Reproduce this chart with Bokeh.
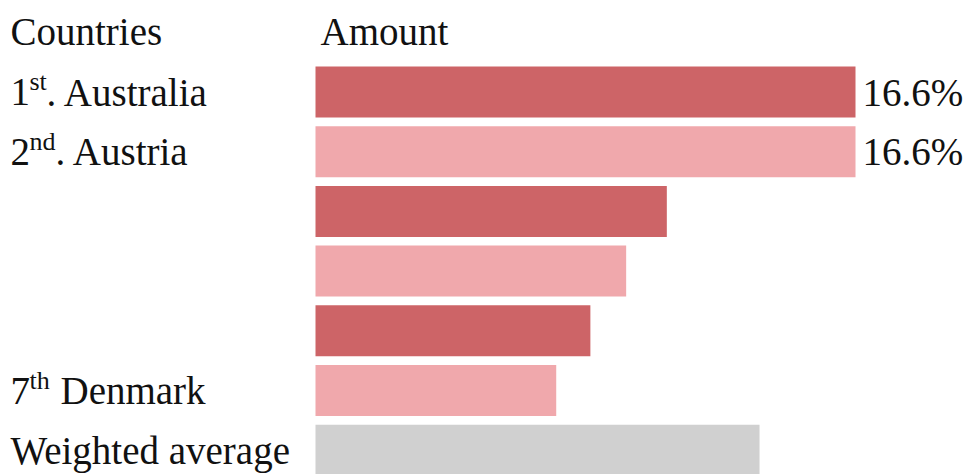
from bokeh.plotting import figure
from bokeh.models import ColumnDataSource, Range1d, Label
from bokeh.embed import file_html
from bokeh.resources import INLINE
from bokeh.core.properties import value

# ---- data ----
ranks = [0, 1, 2, 3, 4, 5, 6]
amounts = [16.6, 16.6, 10.8, 9.55, 8.45, 7.4, 13.65]
colors = ["#CD6467", "#F0A8AC", "#CD6467", "#F0A8AC", "#CD6467", "#F0A8AC", "#D0D0D0"]
value_labels = ["16.6%", "16.6%", "", "", "", "", ""]
header_left = "Countries"
header_right = "Amount"
# row labels: (row, number, superscript, rest)
row_labels = [
    (0, "1", "st", ". Australia"),
    (1, "2", "nd", ". Austria"),
    (5, "7", "th", "Denmark"),
    (6, "", "", "Weighted average"),
]

FONT = "Liberation Serif"
FS = "39px"
SUP_FS = "26px"
W, H = 974, 474
x0_px = 315
px_per_unit = 540 / 16.6
row0_px = 91.5
pitch = 59.7

x_start = -x0_px / px_per_unit
x_end = (W - x0_px) / px_per_unit
y_top = -row0_px / pitch
y_bottom = (H - row0_px) / pitch

p = figure(width=W, height=H, output_backend="svg", toolbar_location=None,
           x_range=Range1d(x_start, x_end), y_range=Range1d(y_bottom, y_top),
           min_border=0)
p.xaxis.visible = False
p.yaxis.visible = False
p.grid.visible = False
p.outline_line_color = None
p.background_fill_color = "white"
p.border_fill_color = "white"

src = ColumnDataSource(dict(y=ranks, right=amounts, color=colors, lab=value_labels))
p.hbar(y="y", left=0, right="right", height=0.855, fill_color="color", line_color=None, source=src)
p.text(x="right", y="y", text="lab", source=src, x_offset=7, text_baseline="middle",
       text_align="left", text_font=value(FONT), text_font_size=FS, text_color="#111111")

def lab(x, y, text, size=FS, x_units="screen", x_offset=0):
    p.add_layout(Label(x=x, y=y, x_units=x_units, y_units="data", text=text, x_offset=x_offset,
                       text_font=FONT, text_font_size=size, text_baseline="middle",
                       text_align="left", text_color="#111111"))

lab(10, -1.02, header_left)
lab(0, -1.02, header_right, x_units="data", x_offset=5)

for row, num, sup, rest in row_labels:
    if num:
        lab(10, row, num)
        lab(29, row - 0.17, sup, size=SUP_FS)
        rest_x = {"st": 46, "nd": 55, "th": 60}[sup]
        lab(rest_x, row, rest)
    else:
        lab(10, row, rest)

open("out.html", "w").write(file_html(p, INLINE))
